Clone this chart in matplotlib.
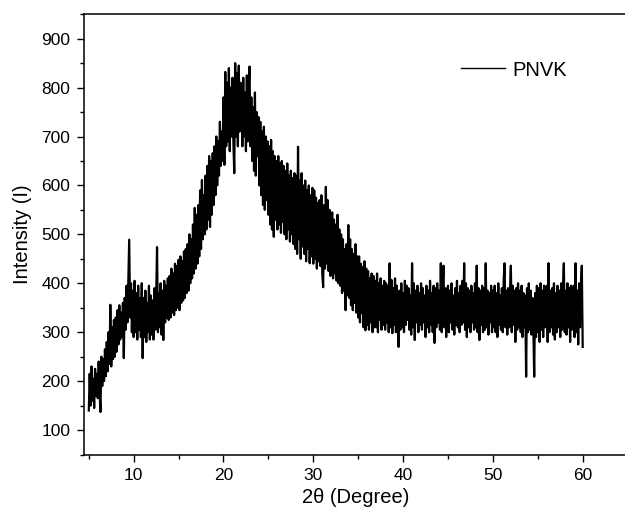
import numpy as np
import matplotlib
matplotlib.use("Agg")
import matplotlib.pyplot as plt
from matplotlib.ticker import MultipleLocator

plt.rcParams['font.family'] = ['Liberation Sans', 'DejaVu Sans']

# 2-theta sampling: 5.0 .. 60.0 in 0.1 degree steps
theta_start, theta_stop, theta_step = 5.0, 60.0, 0.1

# Intensity, one row per degree (x.0 .. x.9)
intensity_rows = [
    [140, 215, 150, 230, 160, 205, 145, 225, 170, 215],   # 5
    [165, 240, 180, 137, 250, 190, 245, 200, 265, 210],   # 6
    [280, 220, 300, 235, 356, 230, 310, 245, 325, 250],   # 7
    [330, 260, 345, 275, 355, 285, 340, 290, 360, 247],   # 8
    [370, 305, 395, 320, 410, 489, 330, 400, 300, 385],   # 9
    [290, 405, 300, 380, 285, 395, 305, 370, 290, 400],   # 10
    [247, 370, 290, 385, 280, 360, 300, 395, 285, 375],   # 11
    [295, 365, 285, 390, 305, 370, 474, 300, 380, 310],   # 12
    [400, 295, 385, 284, 405, 320, 395, 330, 410, 325],   # 13
    [415, 330, 430, 340, 420, 335, 440, 345, 435, 350],   # 14
    [448, 345, 455, 360, 445, 365, 465, 370, 470, 380],   # 15
    [480, 385, 500, 400, 490, 410, 520, 420, 554, 430],   # 16
    [540, 440, 560, 455, 590, 470, 611, 490, 580, 500],   # 17
    [620, 510, 640, 530, 660, 515, 650, 540, 666, 560],   # 18
    [680, 580, 700, 600, 690, 620, 730, 640, 710, 650],   # 19
    [780, 642, 832, 680, 810, 690, 840, 670, 800, 700],   # 20
    [820, 690, 625, 850, 700, 830, 680, 845, 710, 810],   # 21
    [795, 680, 820, 700, 790, 670, 825, 690, 800, 843],   # 22
    [680, 780, 650, 760, 630, 790, 620, 750, 660, 740],   # 23
    [600, 730, 580, 710, 560, 720, 550, 700, 570, 690],   # 24
    [540, 680, 520, 693, 510, 670, 495, 660, 530, 650],   # 25
    [510, 660, 520, 645, 503, 650, 525, 640, 500, 630],   # 26
    [490, 645, 510, 620, 485, 630, 500, 615, 480, 625],   # 27
    [470, 620, 460, 679, 490, 610, 450, 625, 475, 600],   # 28
    [460, 610, 445, 590, 470, 600, 441, 580, 455, 595],   # 29
    [440, 590, 450, 575, 430, 564, 445, 570, 435, 580],   # 30
    [420, 392, 560, 430, 597, 440, 570, 425, 550, 415],   # 31
    [430, 545, 410, 530, 420, 520, 405, 540, 400, 510],   # 32
    [395, 500, 380, 490, 385, 470, 345, 480, 375, 519],   # 33
    [370, 490, 355, 470, 345, 460, 360, 480, 340, 455],   # 34
    [330, 455, 320, 440, 339, 433, 310, 445, 304, 430],   # 35
    [315, 425, 305, 410, 320, 420, 300, 415, 310, 405],   # 36
    [310, 420, 300, 400, 325, 410, 305, 395, 315, 405],   # 37
    [305, 400, 320, 395, 300, 441, 310, 407, 298, 390],   # 38
    [315, 410, 300, 395, 320, 270, 385, 305, 400, 310],   # 39
    [380, 300, 405, 315, 395, 325, 390, 305, 375, 295],   # 40
    [441, 310, 400, 284, 385, 320, 395, 300, 380, 315],   # 41
    [400, 305, 390, 320, 375, 290, 395, 310, 385, 300],   # 42
    [405, 315, 380, 300, 395, 278, 390, 310, 400, 320],   # 43
    [385, 305, 441, 300, 395, 436, 310, 390, 290, 380],   # 44
    [395, 300, 385, 320, 400, 305, 375, 295, 390, 315],   # 45
    [405, 310, 380, 300, 395, 315, 405, 320, 441, 305],   # 46
    [400, 290, 390, 310, 385, 300, 395, 320, 380, 305],   # 47
    [400, 310, 436, 300, 390, 284, 385, 315, 395, 300],   # 48
    [390, 305, 441, 310, 385, 295, 380, 320, 395, 300],   # 49
    [385, 310, 395, 300, 380, 290, 400, 315, 375, 305],   # 50
    [390, 300, 405, 441, 310, 385, 295, 390, 310, 380],   # 51
    [436, 300, 395, 315, 385, 280, 390, 305, 400, 310],   # 52
    [385, 300, 395, 290, 380, 310, 375, 209, 390, 300],   # 53
    [400, 305, 385, 295, 370, 310, 209, 380, 290, 395],   # 54
    [300, 390, 280, 400, 305, 385, 290, 395, 310, 380],   # 55
    [395, 280, 441, 300, 385, 310, 390, 295, 400, 285],   # 56
    [380, 300, 395, 310, 385, 290, 400, 305, 390, 441],   # 57
    [300, 385, 295, 400, 310, 390, 280, 395, 305, 380],   # 58
    [395, 290, 441, 300, 385, 275, 400, 310, 390, 436],   # 59
    [270],                                                # 60
]

legend_label = "PNVK"
x_label = "2\u03b8 (Degree)"
y_label = "Intensity (I)"

intensity = np.array([v for row in intensity_rows for v in row], dtype=float)
two_theta = theta_start + theta_step * np.arange(len(intensity))

fig = plt.figure(figsize=(6.25, 5.09), dpi=100)
W, H = 625, 509
left_px, right_px, top_px, bottom_px = 84.3, 627.6, 14.2, 454.5
ax = fig.add_axes([left_px / W, 1 - bottom_px / H,
                   (right_px - left_px) / W, (bottom_px - top_px) / H])

ax.plot(two_theta, intensity, color='black', lw=1.6, label=legend_label)

ax.set_xlim(4.5, 65)
ax.set_ylim(50, 950)
ax.xaxis.set_major_locator(MultipleLocator(10))
ax.xaxis.set_minor_locator(MultipleLocator(5))
ax.yaxis.set_major_locator(MultipleLocator(100))
ax.yaxis.set_minor_locator(MultipleLocator(50))
ax.set_xticks([10, 20, 30, 40, 50, 60])
ax.set_yticks([100, 200, 300, 400, 500, 600, 700, 800, 900])

ax.tick_params(which='major', direction='out', length=5, width=1.0,
               labelsize=12.5, pad=5, colors='black')
ax.tick_params(which='minor', direction='out', length=3, width=1.0)
for s in ax.spines.values():
    s.set_linewidth(1.1)

ax.set_xlabel(x_label, fontsize=14.5, labelpad=3)
ax.set_ylabel(y_label, fontsize=14.5, labelpad=7)

leg = ax.legend(loc='center left', bbox_to_anchor=(460.7 / W, 1 - 70 / H),
                bbox_transform=fig.transFigure, frameon=False, fontsize=14.5,
                handlelength=2.2, handletextpad=0.38, borderpad=0,
                borderaxespad=0)
for h in leg.get_lines():
    h.set_linewidth(1.0)

fig.savefig("out.png", dpi=100)
